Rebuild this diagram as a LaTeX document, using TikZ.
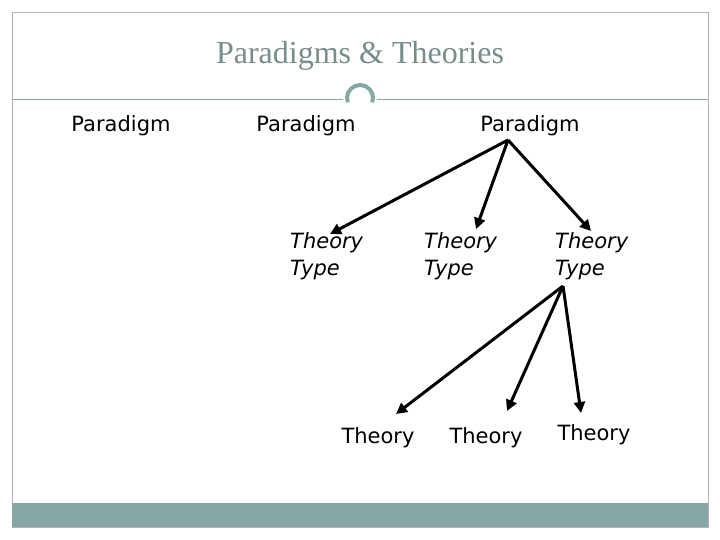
\documentclass[tikz,border=0pt]{standalone}
\usepackage{fontspec}
\setmainfont{DejaVu Sans}
\newfontfamily\titlefont{Liberation Serif}
\usetikzlibrary{arrows.meta}
\definecolor{teal1}{RGB}{135,166,166}
\definecolor{titlec}{RGB}{120,140,140}
\begin{document}
\begin{tikzpicture}[x=1pt,y=-1pt,
  lbl/.style={font=\fontsize{21}{26}\selectfont},
  tt/.style={font=\fontsize{21}{27}\selectfont\itshape,align=left,anchor=north west,inner sep=0},
  arr/.style={line width=3pt,-{Triangle[length=11pt,width=11pt]}}]
\useasboundingbox (0,0) rectangle (720,540);
\draw[gray!60,line width=0.6pt] (12,12) rectangle (708,527);
\fill[teal1] (12,503) rectangle (708,527);
\draw[teal1,line width=1pt] (12,100) -- (343,100);
\draw[teal1,line width=1pt] (377,100) -- (708,100);
\draw[teal1,line width=4pt] (360,98) ++(160:13) arc[start angle=160,end angle=380,radius=13];
\node[font=\titlefont\fontsize{32}{38}\selectfont,text=titlec] (title) at (360,56) {Paradigms \& Theories};
\node[lbl] (p1) at (121,126) {Paradigm};
\node[lbl] (p2) at (306,126) {Paradigm};
\node[lbl] (p3) at (530,126) {Paradigm};
\coordinate (a) at (508,140);
\node[tt] (t1) at (290,232) {Theory\\Type};
\node[tt] (t2) at (424,232) {Theory\\Type};
\node[tt] (t3) at (555,232) {Theory\\Type};
\coordinate (b) at (563,286);
\node[lbl] (h1) at (378,438) {Theory};
\node[lbl] (h2) at (486,438) {Theory};
\node[lbl] (h3) at (594,435) {Theory};
\coordinate (e1) at (330,234);
\coordinate (e2) at (476,229);
\coordinate (e3) at (591,231);
\coordinate (f1) at (396,414);
\coordinate (f2) at (507,411);
\coordinate (f3) at (581,413);
\draw[arr] (a) -- (e1);
\draw[arr] (a) -- (e2);
\draw[arr] (a) -- (e3);
\draw[arr] (b) -- (f1);
\draw[arr] (b) -- (f2);
\draw[arr] (b) -- (f3);
\end{tikzpicture}
\end{document}
